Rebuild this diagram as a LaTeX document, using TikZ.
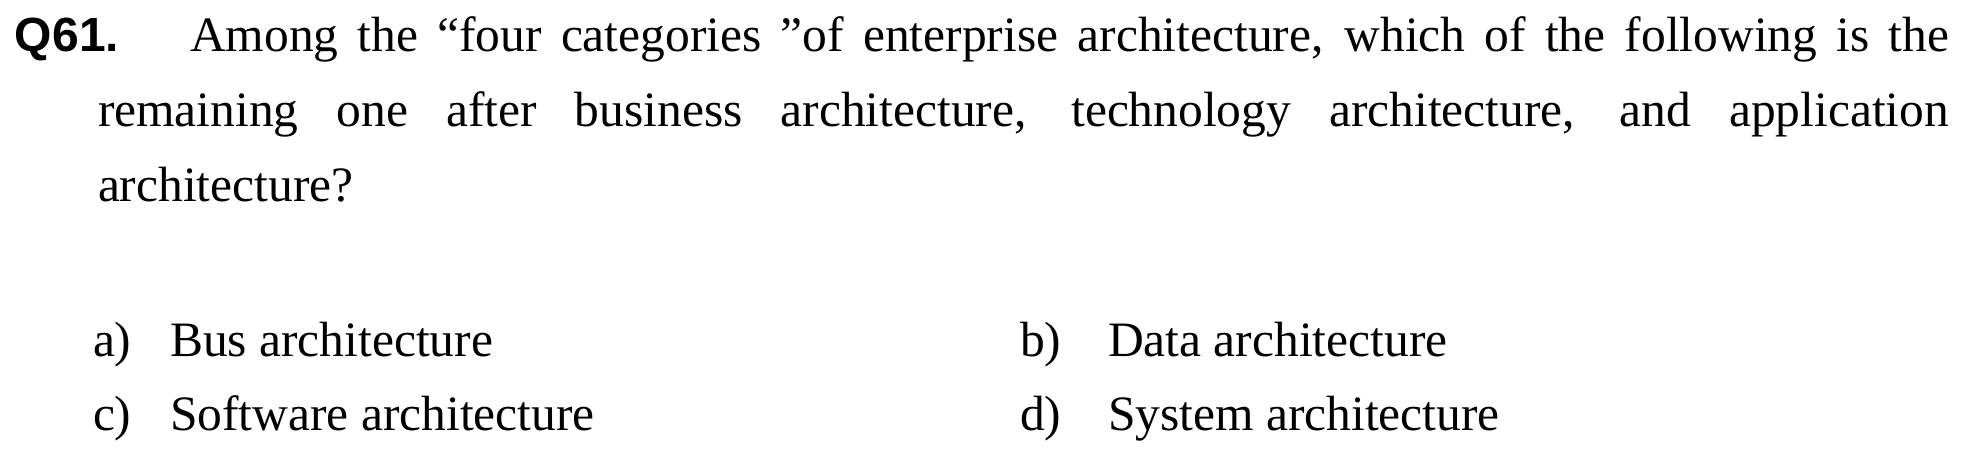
\documentclass[tikz,border=0pt]{standalone}
\usepackage{fontspec}
\setmainfont{Liberation Serif}
\newfontfamily\qfont{Liberation Sans}
\tikzset{
  txt/.style={anchor=base west, inner sep=0pt, outer sep=0pt, font=\fontsize{24.75}{30}\selectfont},
  qlabel/.style={anchor=base west, inner sep=0pt, outer sep=0pt, font=\fontsize{24}{30}\selectfont\qfont\bfseries}
}
\begin{document}
\begin{tikzpicture}[x=0.5pt,y=-0.5pt]
\useasboundingbox (0,0) rectangle (1967,458);
\node[qlabel] (q) at (15,52) {Q61.};
\node[txt] (l1) at (190,52) {\makebox[879.5pt][s]{Among the “four categories ”of enterprise architecture, which of the following is the}};
\node[txt] (l2) at (98,127) {\makebox[925.5pt][s]{remaining one after business architecture, technology architecture, and application}};
\node[txt] (l3) at (98,202) {architecture?};
\node[txt] (la) at (93,357) {a)};
\node[txt] (ta) at (170,357) {Bus architecture};
\node[txt] (lb) at (1020,357) {b)};
\node[txt] (tb) at (1108,357) {Data architecture};
\node[txt] (lc) at (93,431) {c)};
\node[txt] (tc) at (170,431) {Software architecture};
\node[txt] (ld) at (1020,431) {d)};
\node[txt] (td) at (1108,431) {System architecture};
\end{tikzpicture}
\end{document}
